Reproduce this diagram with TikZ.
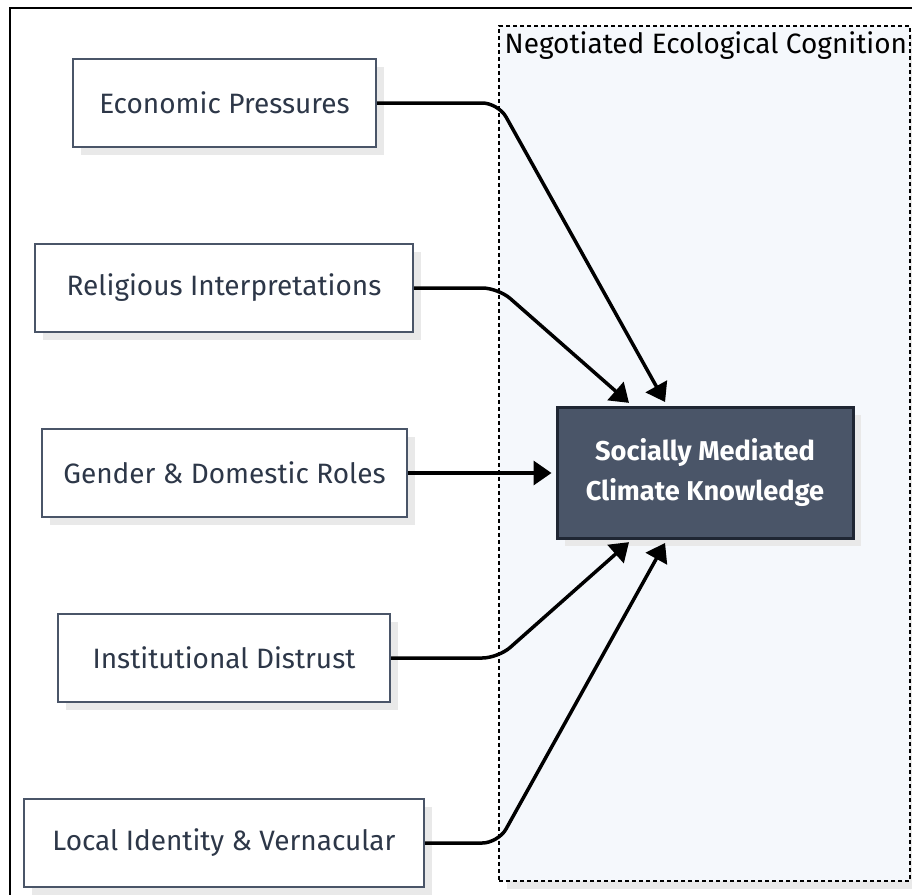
\documentclass[tikz,border=0pt]{standalone}
\usepackage{fontspec}
\setmainfont{Fira Sans}
\usetikzlibrary{arrows.meta,shadows}
\definecolor{slate}{HTML}{4A5568}
\definecolor{ink}{HTML}{2D3748}
\definecolor{deep}{HTML}{1F2633}
\definecolor{mist}{HTML}{F5F8FC}
\definecolor{shade}{HTML}{E9E9E9}
\tikzset{
  factor/.style={draw=slate, line width=1pt, fill=white, text=ink, font=\fontsize{14}{16}\selectfont, minimum height=44pt, drop shadow={shadow xshift=4pt, shadow yshift=-4pt, fill=shade, opacity=1}},
  core/.style={draw=deep, line width=1.5pt, fill=slate, text=white, font=\fontsize{13.6}{20}\selectfont\bfseries, align=center, minimum width=148pt, minimum height=65.5pt, drop shadow={shadow xshift=4pt, shadow yshift=-4pt, fill=shade, opacity=1}},
  cluster/.style={draw=black, dash pattern=on 2pt off 1.5pt, line width=0.75pt, fill=mist, drop shadow={shadow xshift=4pt, shadow yshift=-4pt, fill=shade, opacity=1}},
  link/.style={line width=1.75pt, rounded corners=8pt, -{Triangle[length=9pt,width=12pt]}, shorten >=2pt}
}
\begin{document}
\begin{tikzpicture}[x=0.5pt,y=-0.5pt]
\clip (0,0) rectangle (912,895);
\draw[line width=1pt] (10,910) |- (930,8);
\node[cluster, minimum width=205.5pt, minimum height=427.5pt] (grp) at (704.5,453.5) {};
\node[anchor=north west, inner sep=3pt, font=\fontsize{14}{16}\selectfont] (grplabel) at (grp.north west) {Negotiated Ecological Cognition};
\node[factor, minimum width=151.5pt] (econ) at (224.5,103) {Economic Pressures};
\node[factor, minimum width=189pt] (relig) at (224,288) {Religious Interpretations};
\node[factor, minimum width=182.5pt] (gender) at (224.5,473) {Gender \& Domestic Roles};
\node[factor, minimum width=166pt] (inst) at (224,658) {Institutional Distrust};
\node[factor, minimum width=200pt] (local) at (224,843) {Local Identity \& Vernacular};
\node[core] (core) at (705,472.5) {Socially Mediated\\Climate Knowledge};
\draw[link] (econ.east) -- (econ.east -| grp.west) -- ([xshift=-19pt]core.north);
\draw[link] (relig.east) -- (relig.east -| grp.west) -- ([xshift=-36.5pt]core.north);
\draw[link] (gender.east) -- (gender.east -| core.west);
\draw[link] (inst.east) -- (inst.east -| grp.west) -- ([xshift=-36.5pt]core.south);
\draw[link] (local.east) -- (local.east -| grp.west) -- ([xshift=-19pt]core.south);
\end{tikzpicture}
\end{document}
